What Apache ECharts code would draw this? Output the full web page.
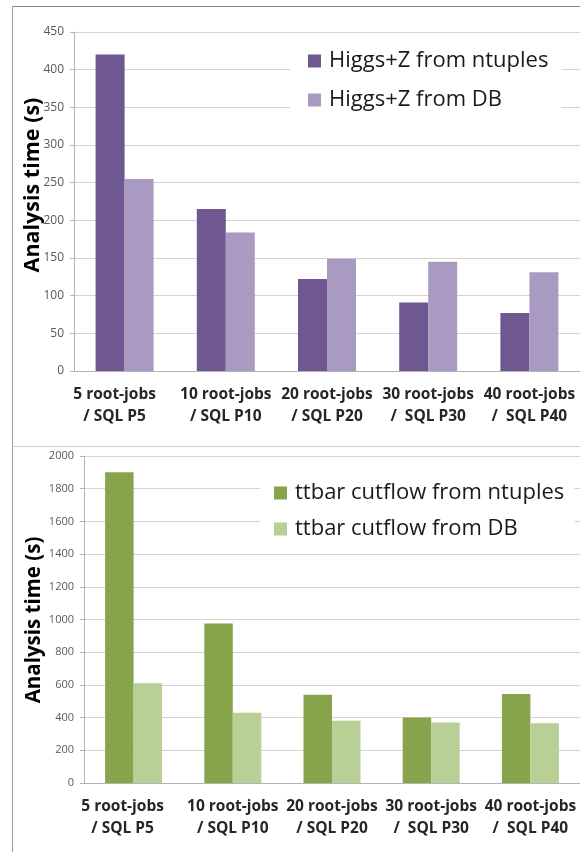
<!DOCTYPE html>
<html>
<head>
<meta charset="utf-8">
<script src="https://cdn.jsdelivr.net/npm/echarts@6/dist/echarts.min.js"></script>
<style>
  html, body { margin: 0; padding: 0; background: #ffffff; }
  #chart { width: 580px; height: 852px; }
</style>
</head>
<body>
<div id="chart"></div>
<script>
// Configurations compared: number of root jobs vs. SQL parallelism
const categories = [
  '5 root-jobs\n/ SQL P5',
  '10 root-jobs\n/ SQL P10',
  '20 root-jobs\n/ SQL P20',
  '30 root-jobs\n/  SQL P30',
  '40 root-jobs\n/  SQL P40'
];

// Higgs+Z analysis time (s)
const higgsNtuples = [420, 215, 122, 91, 77];
const higgsDB = [255, 184, 149, 145, 131];

// ttbar cutflow analysis time (s)
const ttbarNtuples = [1900, 975, 540, 400, 545];
const ttbarDB = [610, 430, 380, 370, 365];

const topTicks = { min: 0, max: 450, interval: 50 };
const bottomTicks = { min: 0, max: 2000, interval: 200 };

const axisTitle = 'Analysis time (s)';
const legendNames = {
  higgsNtuples: 'Higgs+Z from ntuples',
  higgsDB: 'Higgs+Z from DB',
  ttbarNtuples: 'ttbar cutflow from ntuples',
  ttbarDB: 'ttbar cutflow from DB'
};

const colors = {
  purpleDark: '#6f5891',
  purpleLight: '#a89ac1',
  greenDark: '#87a44d',
  greenLight: '#b8cf95'
};

const chart = echarts.init(document.getElementById('chart'), null, { renderer: 'canvas' });

function catAxis(gridIndex, shiftFirst) {
  return {
    type: 'category',
    gridIndex: gridIndex,
    data: categories.map((c, i) => i === 0
      ? { value: c, textStyle: { padding: [0, shiftFirst, 0, 0] } }
      : c),
    axisLine: { show: true, lineStyle: { color: '#b3b3b3', width: 1 } },
    axisTick: { show: false },
    axisLabel: {
      interval: 0,
      margin: 13,
      fontFamily: 'Open Sans',
      fontWeight: 'bold',
      fontSize: 15.5,
      lineHeight: 22,
      color: '#262626'
    }
  };
}

function valAxis(gridIndex, ticks, fontSize) {
  return {
    type: 'value',
    gridIndex: gridIndex,
    min: ticks.min,
    max: ticks.max,
    interval: ticks.interval,
    axisLine: { show: true, lineStyle: { color: '#b3b3b3', width: 1 } },
    axisTick: { show: true, length: 4, lineStyle: { color: '#b3b3b3' } },
    axisLabel: {
      margin: 10,
      fontFamily: 'Open Sans',
      fontSize: fontSize,
      color: '#595959',
      formatter: v => String(v)
    },
    splitLine: { show: true, lineStyle: { color: '#d4d4d4', width: 1 } }
  };
}

function legendBox(names, left, top, padding, itemGap) {
  return {
    orient: 'vertical',
    left: left,
    top: top,
    padding: padding,
    itemGap: itemGap,
    itemWidth: 13,
    itemHeight: 13,
    icon: 'rect',
    backgroundColor: '#ffffff',
    data: names,
    textStyle: {
      fontFamily: 'Open Sans',
      fontSize: 22,
      lineHeight: 22,
      color: '#1a1a1a',
      padding: [0, 0, 0, 3]
    }
  };
}

const option = {
  animation: false,
  backgroundColor: '#ffffff',
  grid: [
    { left: 74, top: 32, width: 510, height: 339 },
    { left: 84, top: 456, width: 502, height: 327 }
  ],
  xAxis: [catAxis(0, 20), catAxis(1, 22)],
  yAxis: [valAxis(0, topTicks, 12), valAxis(1, bottomTicks, 11)],
  legend: [
    legendBox([legendNames.higgsNtuples, legendNames.higgsDB], 290, 44, [6, 13, 6, 18], 17),
    legendBox([legendNames.ttbarNtuples, legendNames.ttbarDB], 260, 476, [6, 10, 6, 14], 14)
  ],
  series: [
    {
      name: legendNames.higgsNtuples, type: 'bar', xAxisIndex: 0, yAxisIndex: 0,
      data: higgsNtuples, barWidth: 29, barGap: '0%',
      itemStyle: { color: colors.purpleDark }
    },
    {
      name: legendNames.higgsDB, type: 'bar', xAxisIndex: 0, yAxisIndex: 0,
      data: higgsDB, barWidth: 29, barGap: '0%',
      itemStyle: { color: colors.purpleLight }
    },
    {
      name: legendNames.ttbarNtuples, type: 'bar', xAxisIndex: 1, yAxisIndex: 1,
      data: ttbarNtuples, barWidth: 28.5, barGap: '0%',
      itemStyle: { color: colors.greenDark }
    },
    {
      name: legendNames.ttbarDB, type: 'bar', xAxisIndex: 1, yAxisIndex: 1,
      data: ttbarDB, barWidth: 28.5, barGap: '0%',
      itemStyle: { color: colors.greenLight }
    }
  ],
  graphic: [
    // frame lines around the two panels
    { type: 'line', shape: { x1: 12, y1: 6.5, x2: 580, y2: 6.5 }, style: { stroke: '#8a8a8a', lineWidth: 1 }, silent: true },
    { type: 'line', shape: { x1: 12.5, y1: 6, x2: 12.5, y2: 852 }, style: { stroke: '#9a9a9a', lineWidth: 1 }, silent: true },
    { type: 'line', shape: { x1: 12, y1: 446.5, x2: 580, y2: 446.5 }, style: { stroke: '#cfcfcf', lineWidth: 1 }, silent: true },
    // vertical axis titles
    {
      type: 'text', x: 33, y: 185, rotation: Math.PI / 2, silent: true,
      style: {
        text: axisTitle, fontFamily: 'Open Sans', fontWeight: 'bold', fontSize: 21.5,
        fill: '#000000', align: 'center', verticalAlign: 'middle'
      }
    },
    {
      type: 'text', x: 34, y: 620, rotation: Math.PI / 2, silent: true,
      style: {
        text: axisTitle, fontFamily: 'Open Sans', fontWeight: 'bold', fontSize: 20.5,
        fill: '#000000', align: 'center', verticalAlign: 'middle'
      }
    }
  ]
};

chart.setOption(option);
</script>
</body>
</html>
